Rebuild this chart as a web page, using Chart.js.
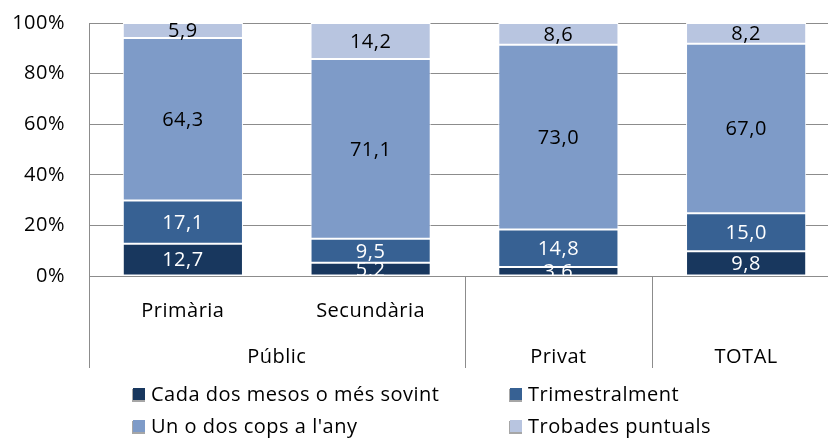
<!DOCTYPE html>
<html>
<head>
<meta charset="utf-8">
<script src="https://cdn.jsdelivr.net/npm/chart.js@4"></script>
<style>
html,body{margin:0;padding:0;background:#fff;overflow:hidden;}
#wrap{width:842px;height:440px;}
</style>
</head>
<body>
<div id="wrap"><canvas id="c" width="842" height="440"></canvas></div>
<script>
const categories = ['Primària', 'Secundària', 'Privat', 'TOTAL'];
const subLabels = ['Primària', 'Secundària', '', ''];
const groupLabels = ['Públic', 'Privat', 'TOTAL'];
const groupFirst = [0, 2, 3];
const groupLast = [1, 2, 3];

const seriesNames = ['Cada dos mesos o més sovint', 'Trimestralment', "Un o dos cops a l'any", 'Trobades puntuals'];
const cadaDosMesos = [12.7, 5.2, 3.6, 9.8];
const trimestralment = [17.1, 9.5, 14.8, 15.0];
const unODosCops = [64.3, 71.1, 73.0, 67.0];
const trobadesPuntuals = [5.9, 14.2, 8.6, 8.2];
const seriesColors = ['#18375E', '#376193', '#7E9BC8', '#B8C5E0'];
const labelColors = ['#ffffff', '#ffffff', '#000000', '#000000'];

const FONT = "'Open Sans', sans-serif";
const FS = 20;
const LS = '0.5px';

const fmt = v => v.toFixed(1).replace('.', ',');

const spacingPlugin = {
  id: 'spacing',
  beforeDraw(chart) { chart.ctx.letterSpacing = LS; }
};

const dataLabels = {
  id: 'dataLabels',
  afterDatasetsDraw(chart) {
    const ctx = chart.ctx, a = chart.chartArea;
    ctx.save();
    ctx.beginPath();
    ctx.rect(a.left, a.top, a.right - a.left, a.bottom - a.top);
    ctx.clip();
    ctx.font = FS + 'px ' + FONT;
    ctx.textAlign = 'center';
    ctx.textBaseline = 'middle';
    chart.data.datasets.forEach((ds, i) => {
      const meta = chart.getDatasetMeta(i);
      ctx.fillStyle = labelColors[i];
      meta.data.forEach((bar, j) => {
        const p = bar.getProps(['x', 'y', 'base'], true);
        ctx.fillText(fmt(ds.data[j]), p.x, (p.y + p.base) / 2 + 1);
      });
    });
    ctx.restore();
  }
};

const catAxis = {
  id: 'catAxis',
  afterDraw(chart) {
    const ctx = chart.ctx, a = chart.chartArea, xs = chart.scales.x;
    const half = (xs.getPixelForValue(1) - xs.getPixelForValue(0)) / 2;
    ctx.save();
    ctx.strokeStyle = '#8c8c8c';
    ctx.lineWidth = 1;
    const bounds = [];
    groupFirst.forEach((f) => {
      bounds.push(xs.getPixelForValue(f) - half);
    });
    bounds.push(xs.getPixelForValue(categories.length - 1) + half);
    bounds.forEach(bx => {
      const px = Math.round(bx) + 0.5;
      ctx.beginPath();
      ctx.moveTo(px, a.bottom);
      ctx.lineTo(px, a.bottom + 92);
      ctx.stroke();
    });
    ctx.fillStyle = '#000';
    ctx.font = FS + 'px ' + FONT;
    ctx.textAlign = 'center';
    ctx.textBaseline = 'alphabetic';
    subLabels.forEach((s, i) => {
      if (s) ctx.fillText(s, xs.getPixelForValue(i), a.bottom + 41);
    });
    groupLabels.forEach((g, k) => {
      const cx = (xs.getPixelForValue(groupFirst[k]) + xs.getPixelForValue(groupLast[k])) / 2;
      ctx.fillText(g, cx, a.bottom + 87);
    });
    // legend
    const colX = [132, 509];
    const rowY = [401, 433];
    chart.data.datasets.forEach((ds, i) => {
      const lx = colX[i % 2], ly = rowY[Math.floor(i / 2)];
      ctx.fillStyle = '#a6a6a6';
      ctx.fillRect(lx, ly - 12, 13, 13);
      ctx.fillStyle = ds.backgroundColor;
      ctx.fillRect(lx + 1, ly - 13, 12, 12);
      ctx.fillStyle = '#000';
      ctx.textAlign = 'left';
      ctx.fillText(ds.label, lx + 19, ly);
    });
    ctx.restore();
  }
};

const seriesData = [cadaDosMesos, trimestralment, unODosCops, trobadesPuntuals];

new Chart(document.getElementById('c'), {
  type: 'bar',
  data: {
    labels: categories,
    datasets: seriesData.map((d, i) => ({
      label: seriesNames[i],
      data: d,
      backgroundColor: seriesColors[i],
      borderColor: '#ffffff',
      borderWidth: 1,
      borderSkipped: false,
      barPercentage: 0.64,
      categoryPercentage: 1
    }))
  },
  options: {
    responsive: false,
    devicePixelRatio: 1,
    animation: false,
    layout: { padding: { top: 23, bottom: 164, left: 0, right: 2 } },
    plugins: { legend: { display: false }, tooltip: { enabled: false }, title: { display: false } },
    scales: {
      x: { stacked: true, display: false },
      y: {
        stacked: true,
        min: 0, max: 100,
        afterFit(s) { s.width = 89; s.paddingTop = 0; s.paddingBottom = 0; },
        ticks: {
          stepSize: 20,
          padding: 0,
          color: '#000',
          font: { family: FONT, size: FS },
          callback: v => v + '%'
        },
        grid: { color: '#8c8c8c', lineWidth: 1, drawTicks: true, tickLength: 24, tickColor: 'rgba(0,0,0,0)' },
        border: { display: true, color: '#8c8c8c', width: 1 }
      }
    }
  },
  plugins: [spacingPlugin, dataLabels, catAxis]
});
</script>
</body>
</html>
